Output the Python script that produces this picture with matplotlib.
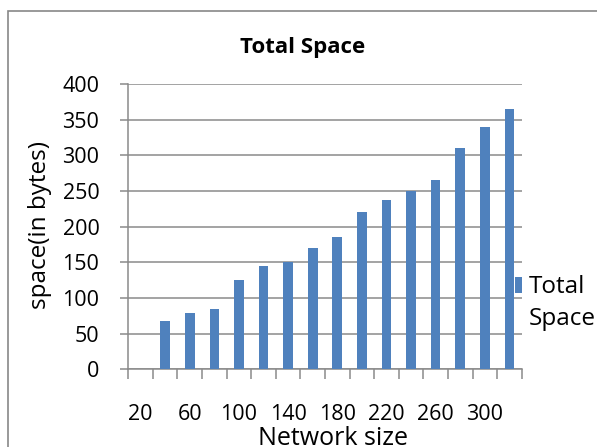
import matplotlib
matplotlib.use("Agg")
import matplotlib.pyplot as plt
from matplotlib.patches import Rectangle
from matplotlib.legend_handler import HandlerPatch, update_from_first_child

plt.rcParams['font.family'] = ['Open Sans', 'DejaVu Sans']

# Data
network_sizes = [20, 40, 60, 80, 100, 120, 140, 160, 180, 200, 220, 240, 260, 280, 300, 320]
total_space = [0, 68, 79, 85, 125, 145, 150, 170, 185, 220, 238, 250, 265, 310, 340, 365]
y_ticks = [0, 50, 100, 150, 200, 250, 300, 350, 400]

W, H = 597, 447
fig = plt.figure(figsize=(W / 100, H / 100), dpi=100)

# outer chart frame
fig.patches.append(Rectangle((7.7 / W, -0.1), 1.2, 1.1 - 10.7 / H,
                             transform=fig.transFigure, fill=False,
                             edgecolor='#878787', linewidth=1.2))

left, right, bottom, top = 128.3, 521.7, 369.3, 84.0
ax = fig.add_axes([left / W, 1 - bottom / H, (right - left) / W, (bottom - top) / H])

grey = '#8a8a8a'
blue = '#4F81BD'
fs_num = 15.5
fs_txt = 17.5

idx = list(range(len(network_sizes)))
bars = ax.bar(idx, total_space, width=0.39, color=blue, zorder=3,
              label='Total\nSpace')

ax.set_xlim(-0.5, len(network_sizes) - 0.5)
ax.set_ylim(0, 400)

# y axis
ax.set_yticks(y_ticks)
ax.set_yticklabels([str(v) for v in y_ticks], fontsize=fs_num)
ax.tick_params(axis='y', length=5.8, width=1.1, color=grey, pad=15)
ax.yaxis.grid(True, color=grey, linewidth=1.1, zorder=0)

# x axis: boundary tick marks, labels every other category
ax.set_xticks([i - 0.5 for i in range(len(network_sizes) + 1)])
ax.set_xticklabels([])
ax.tick_params(axis='x', which='major', length=7, width=1.1, color=grey)
lab_idx = idx[::2]
ax.set_xticks(lab_idx, minor=True)
ax.set_xticklabels([str(network_sizes[i]) for i in lab_idx], minor=True, fontsize=fs_num)
ax.tick_params(axis='x', which='minor', length=0, pad=25)

for s in ['top', 'right']:
    ax.spines[s].set_visible(False)
for s in ['left', 'bottom']:
    ax.spines[s].set_color(grey)
    ax.spines[s].set_linewidth(1.1)
ax.set_axisbelow(True)

ax.set_ylabel('space(in bytes)', fontsize=fs_txt, va='center')
ax.yaxis.set_label_coords((40 - left) / (right - left), (bottom - 225) / (bottom - top))
ax.set_xlabel('Network size', fontsize=18, va='baseline')
ax.xaxis.set_label_coords((333 - left) / (right - left), (bottom - 445) / (bottom - top))

fig.text(303 / W, 1 - 48 / H, 'Total Space', ha='center', va='center',
         fontsize=16, fontweight='bold')

# legend handle aligned with the first line of the label
shift_pt = 18.3 * 72 / 100


def shifted_patch(legend, orig_handle, xdescent, ydescent, width, height, fontsize):
    return Rectangle((-xdescent, -ydescent + shift_pt), width, height)


leg = ax.legend(loc='upper left', bbox_to_anchor=(515 / W, 1 - 275 / H),
                bbox_transform=fig.transFigure, frameon=False, fontsize=fs_txt,
                handlelength=0.28, handleheight=0.62, handletextpad=0.27,
                borderpad=0, borderaxespad=0,
                handler_map={type(bars): HandlerPatch(patch_func=shifted_patch,
                                                      update_func=update_from_first_child)})
for t in leg.get_texts():
    t.set_linespacing(1.42)

fig.savefig('out.png', dpi=100)
